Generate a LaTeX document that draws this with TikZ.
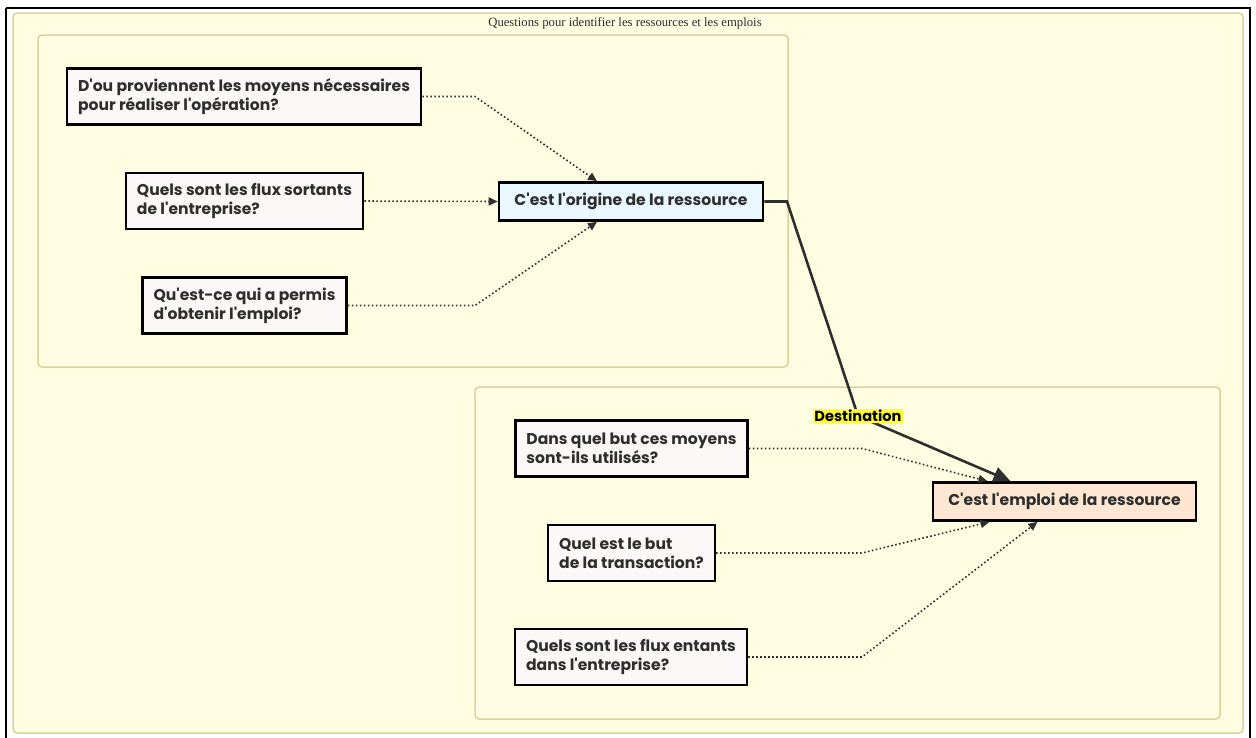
\documentclass[tikz,border=0pt]{standalone}
\usepackage{fontspec}
\usepackage{tikz}
\usetikzlibrary{positioning, arrows.meta, calc}
\newfontfamily\boxfont{Poppins}
\newfontfamily\titlefont{Liberation Serif}

\definecolor{creme}{HTML}{FFFDE1}
\definecolor{clusterline}{HTML}{D4D49C}
\definecolor{boxfill}{HTML}{FCF8F7}
\definecolor{origfill}{HTML}{E9F9FF}
\definecolor{emplfill}{HTML}{FDE7D2}
\definecolor{darktext}{HTML}{2E2E2E}
\definecolor{markyellow}{HTML}{FFFF33}

\begin{document}
\begin{tikzpicture}[
        x=1pt, y=-1pt,
        cluster/.style={draw=clusterline, line width=1.5pt, rounded corners=4pt, fill=creme},
        question/.style={draw, line width=2.6pt, fill=boxfill, align=left, inner xsep=11pt,
            minimum height=56pt, text=darktext, font=\boxfont\bfseries\fontsize{15.6}{19}\selectfont},
        answer/.style={draw, line width=2.6pt, align=center, minimum height=38pt, minimum width=264pt,
            text=darktext, font=\boxfont\bfseries\fontsize{15.6}{19}\selectfont},
        dotarrow/.style={draw=darktext, line width=1.6pt, dash pattern=on 1.6pt off 2.4pt,
            -{Triangle[length=9pt, width=8pt]}},
        mainarrow/.style={draw=darktext, line width=2.6pt, -{Triangle[length=17pt, width=15pt]}},
        destlabel/.style={fill=markyellow, inner sep=1pt, text=black,
            font=\boxfont\bfseries\fontsize{14.6}{16}\selectfont}
    ]
    \useasboundingbox (0,0) rectangle (1256,737);
    \fill[white] (0,0) rectangle (1256,737);

    % cadres
    \draw[line width=2pt] (6,8) -- (6,740) (6,8) -- (1250,8) -- (1250,740);
    \path[cluster] (13,13) rectangle (1243,733);
    \node (titre) at (625,23) [text=darktext, font=\titlefont\fontsize{12.7}{14}\selectfont]
        {Questions pour identifier les ressources et les emplois};
    \path[cluster] (38,35) rectangle (788,367);
    \path[cluster] (475,387) rectangle (1220,719);

    % origine
    \node (q1) at (244,96.5) [question] {D'ou proviennent les moyens nécessaires\\pour réaliser l'opération?};
    \node (q2) at (244.5,201) [question] {Quels sont les flux sortants\\de l'entreprise?};
    \node (q3) at (244.5,305.5) [question] {Qu'est-ce qui a permis\\d'obtenir l'emploi?};
    \node (orig) at (631,201.5) [answer, fill=origfill] {C'est l'origine de la ressource};

    % emploi
    \node (q4) at (631.5,448.5) [question] {Dans quel but ces moyens\\sont-ils utilisés?};
    \node (q5) at (631.5,553) [question] {Quel est le but\\de la transaction?};
    \node (q6) at (631,657) [question] {Quels sont les flux entants\\dans l'entreprise?};
    \node (empl) at (1064.5,501.5) [answer, fill=emplfill, minimum width=263pt] {C'est l'emploi de la ressource};

    % fleches
    \draw[dotarrow] (q1.east) -- (475,96.5) -- ($(orig.north)+(-34,0)$);
    \draw[dotarrow] (q2.east) -- (orig.west);
    \draw[dotarrow] (q3.east) -- (475,305.5) -- ($(orig.south)+(-34,0)$);

    \draw[dotarrow] (q4.east) -- (862,448.5) -- ($(empl.north)+(-77,0)$);
    \draw[dotarrow] (q5.east) -- (862,553) -- ($(empl.south)+(-75,0)$);
    \draw[dotarrow] (q6.east) -- (862,657) -- ($(empl.south)+(-27,0)$);

    \coordinate (pli) at (858,416);
    \draw[mainarrow] (orig.east) -- (787,201.5) -- (pli) -- ($(empl.north)+(-54,0)$);
    \node (dest) at (pli) [destlabel] {Destination};

\end{tikzpicture}
\end{document}
